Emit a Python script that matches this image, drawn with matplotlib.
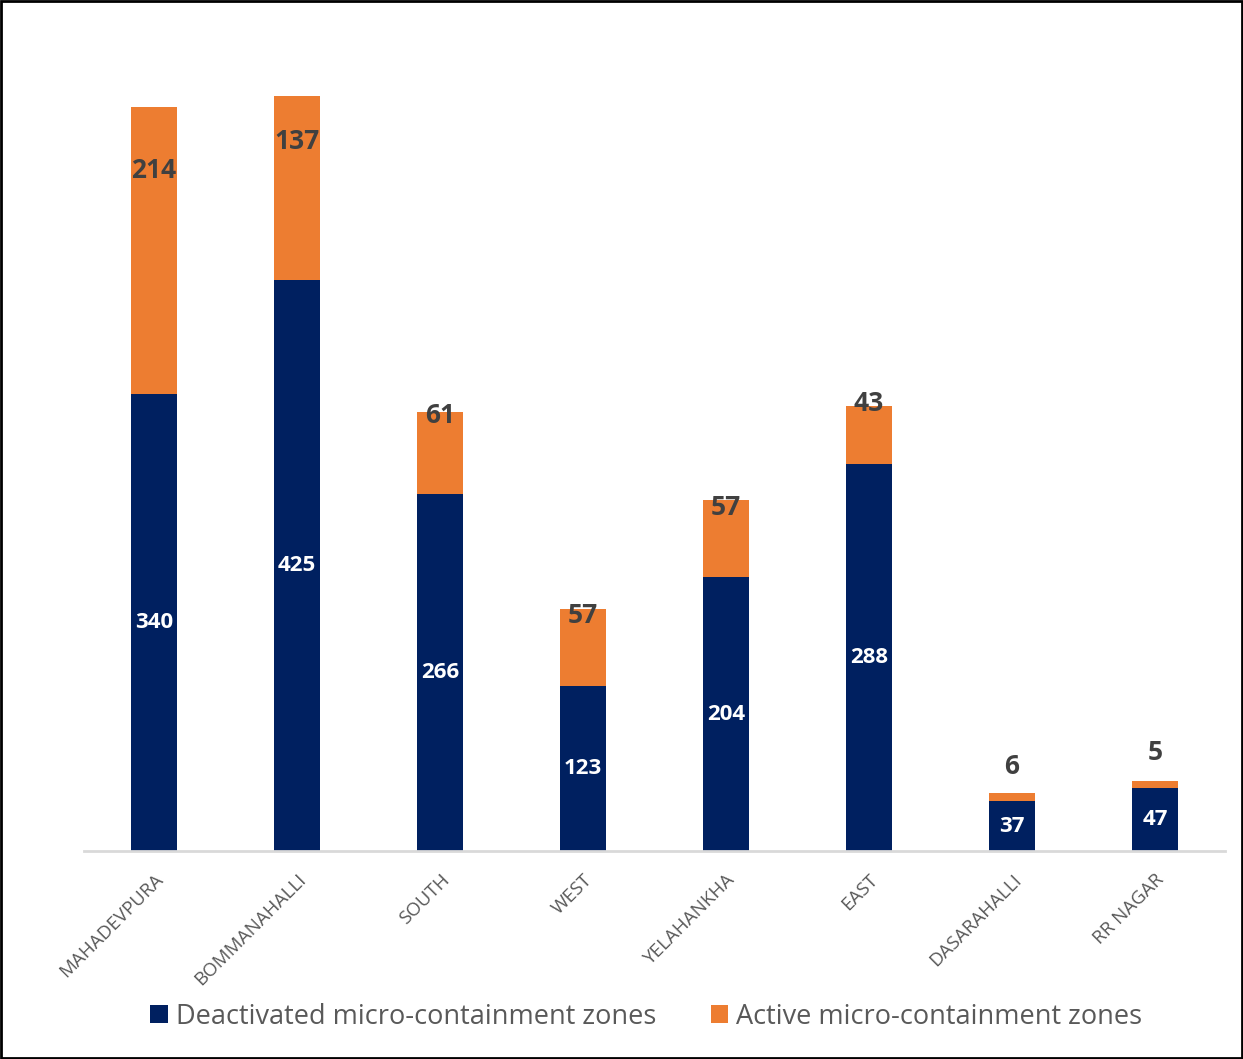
import numpy as np
import matplotlib.pyplot as plt
from matplotlib.patches import Rectangle

zones = ["MAHADEVPURA", "BOMMANAHALLI", "SOUTH", "WEST",
         "YELAHANKHA", "EAST", "DASARAHALLI", "RR NAGAR"]
deactivated = [340, 425, 266, 123, 204, 288, 37, 47]
active = [214, 137, 61, 57, 57, 43, 6, 5]

# where the active-zone labels sit, relative to top of the stack (data units)
active_label_offset = [-47, -34, -3, -5, -5, 2, 20, 21]

navy = "#002060"
orange = "#ED7D31"

plt.rcParams["font.family"] = ["Open Sans", "DejaVu Sans"]

fig = plt.figure(figsize=(12.43, 10.59), dpi=100)
ax = fig.add_axes([0.0676, 0.1964, 0.918, 0.761])

x = np.arange(len(zones))
width = 0.32
ax.bar(x, deactivated, width, color=navy, label="Deactivated micro-containment zones")
ax.bar(x, active, width, bottom=deactivated, color=orange,
       label="Active micro-containment zones")

for i in range(len(zones)):
    ax.text(x[i], deactivated[i] / 2, str(deactivated[i]), ha="center", va="center",
            color="white", fontsize=16, fontweight="bold")
    top = deactivated[i] + active[i]
    ax.text(x[i], top + active_label_offset[i], str(active[i]), ha="center",
            va="center", color="#404040", fontsize=19, fontweight="bold")

ax.set_xlim(-0.49, len(zones) - 0.51)
ax.set_ylim(0, 600)
ax.set_yticks([])
for s in ["top", "right", "left"]:
    ax.spines[s].set_visible(False)
ax.spines["bottom"].set_color("#D9D9D9")
ax.spines["bottom"].set_linewidth(2)
ax.set_xticks(x)
ax.set_xticklabels(zones, rotation=45, ha="right", rotation_mode="anchor",
                   fontsize=13.5, color="#595959")
ax.tick_params(axis="x", length=0, pad=14)

fig.legend(loc="center", bbox_to_anchor=(0.52, 0.04), ncol=2, frameon=False,
           fontsize=19.5, labelcolor="#595959", handlelength=0.65, handleheight=0.65,
           handletextpad=0.3, columnspacing=2.0)

fig.patches.append(Rectangle((0.001, 0.001), 0.998, 0.998, transform=fig.transFigure,
                             fill=False, edgecolor="black", linewidth=2))

fig.savefig("out.png", dpi=100)
